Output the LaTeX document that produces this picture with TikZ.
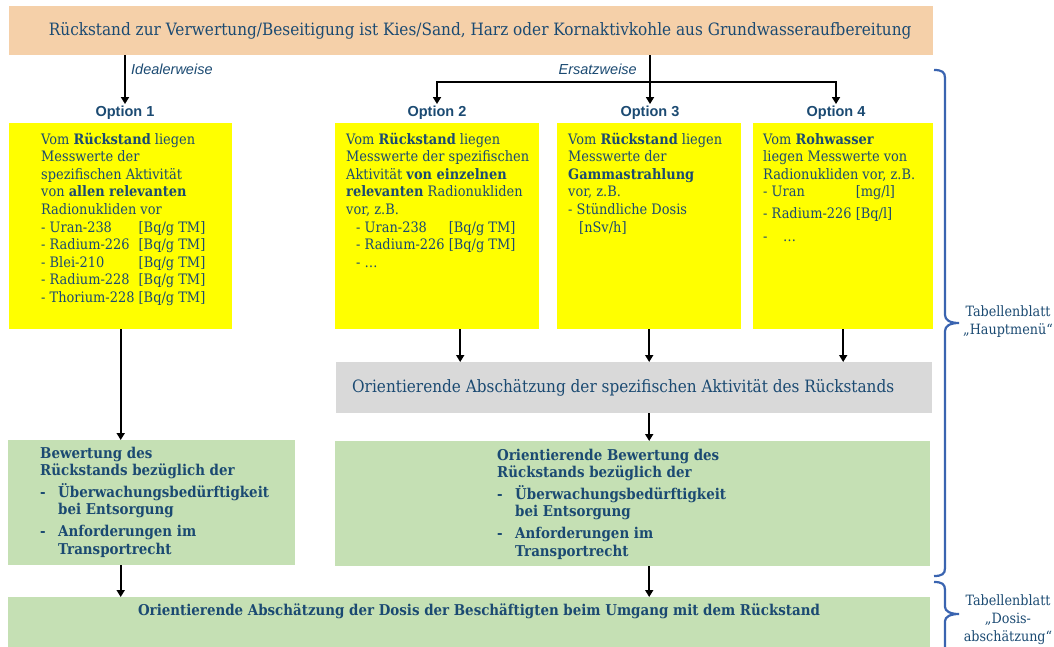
\documentclass[tikz,border=0pt]{standalone}
\usepackage{fontspec}
\setmainfont{DejaVu Serif}[FakeStretch=0.9]
\newfontfamily\optfont{Liberation Sans}
\usetikzlibrary{arrows.meta, positioning}

\definecolor{textblau}{HTML}{1B4A72}
\definecolor{kopforange}{HTML}{F5D0A9}
\definecolor{gelb}{HTML}{FFFF00}
\definecolor{grau}{HTML}{D9D9D9}
\definecolor{gruen}{HTML}{C5E0B4}
\definecolor{klammerblau}{HTML}{3A64B0}

\newlength\nukbreite
\newcommand{\nuk}[2]{\makebox[\nukbreite][l]{#1}#2}
\newcommand{\spalte}[2]{\parbox[t]{#1}{\raggedright #2}}

\begin{document}
\begin{tikzpicture}[
        x=1pt, y=-1pt,
        font=\fontsize{14.4}{17.6}\selectfont, text=textblau,
        kopf/.style={rectangle, fill=kopforange, minimum width=924pt, minimum height=49pt, anchor=north west, inner sep=0pt, font=\fontsize{17}{20}\selectfont},
        messbox/.style={rectangle, fill=gelb, minimum height=206pt, anchor=north west, inner sep=0pt},
        schaetzbox/.style={rectangle, fill=grau, minimum width=596pt, minimum height=51pt, anchor=north west, inner sep=0pt, font=\fontsize{17}{20}\selectfont},
        bewbox/.style={rectangle, fill=gruen, minimum height=125pt, anchor=north west, inner sep=0pt},
        boxtext/.style={anchor=base west, inner sep=0pt},
        fetttext/.style={boxtext, font=\fontsize{14.9}{17.6}\selectfont\bfseries},
        option/.style={inner sep=2pt, font=\optfont\bfseries\fontsize{14.5}{16}\selectfont},
        weg/.style={inner sep=0pt, font=\optfont\itshape\fontsize{14.5}{16}\selectfont},
        blatt/.style={align=center, inner sep=0pt, font=\fontsize{14.2}{18}\selectfont},
        pfeil/.style={-{Triangle[width=8pt,length=7pt]}, line width=1.7pt, black},
        klammer/.style={draw=klammerblau, line width=2.2pt}
    ]
    \useasboundingbox (0,0) rectangle (1054,646);
    \clip (0,0) rectangle (1054,646);

    % Kopf
    \node[kopf] (kopf) at (9,6) {\hspace*{18pt}Rückstand zur Verwertung/Beseitigung ist Kies/Sand, Harz oder Kornaktivkohle aus Grundwasseraufbereitung};

    % Optionen
    \node[option] (lab1) at (125,113) {Option 1};
    \node[option] (lab2) at (437,113) {Option 2};
    \node[option] (lab3) at (650,113) {Option 3};
    \node[option] (lab4) at (836,113) {Option 4};
    \node[weg, anchor=west] (ideal) at (131,69) {Idealerweise};
    \node[weg, anchor=east] (ersatz) at (637,69) {Ersatzweise};

    \node[messbox, minimum width=223pt] (opt1) at (9,123) {};
    \node[messbox, minimum width=204pt] (opt2) at (335,123) {};
    \node[messbox, minimum width=184pt] (opt3) at (557,123) {};
    \node[messbox, minimum width=180pt] (opt4) at (753,123) {};

    \node[boxtext] (opt1txt) at (41,144) {\spalte{188pt}{\settowidth{\nukbreite}{- Thorium-228\ }%
        Vom \textbf{Rückstand} liegen\\
        Messwerte der\\
        spezifischen Aktivität\\
        von \textbf{allen relevanten}\\
        Radionukliden vor\\
        \nuk{- Uran-238}{[Bq/g TM]}\\
        \nuk{- Radium-226}{[Bq/g TM]}\\
        \nuk{- Blei-210}{[Bq/g TM]}\\
        \nuk{- Radium-228}{[Bq/g TM]}\\
        - Thorium-228 [Bq/g TM]}};
    \node[boxtext] (opt2txt) at (346,144) {\spalte{195pt}{\settowidth{\nukbreite}{- Radium-226\ }%
        Vom \textbf{Rückstand} liegen\\
        Messwerte der spezifischen\\
        Aktivität \textbf{von einzelnen}\\
        \textbf{relevanten} Radionukliden\\
        vor, z.B.\\
        \hspace*{10pt}\nuk{- Uran-238}{[Bq/g TM]}\\
        \hspace*{10pt}- Radium-226 [Bq/g TM]\\
        \hspace*{10pt}- \dots}};
    \node[boxtext] (opt3txt) at (568,144) {\spalte{172pt}{%
        Vom \textbf{Rückstand} liegen\\
        Messwerte der\\
        \textbf{Gammastrahlung}\\
        vor, z.B.\\
        - Stündliche Dosis\\
        \hspace*{11pt}[nSv/h]}};
    \node[boxtext] (opt4txt) at (763,144) {\spalte{168pt}{\settowidth{\nukbreite}{- Radium-226\ }%
        Vom \textbf{Rohwasser}\\
        liegen Messwerte von\\
        Radionukliden vor, z.B.\\
        \nuk{- Uran}{[mg/l]}\\[4.5pt]
        - Radium-226 [Bq/l]\\[4.5pt]
        \makebox[20pt][l]{-}\dots}};

    % Abschaetzung und Bewertung
    \node[schaetzbox] (schaetz) at (336,362) {Orientierende Abschätzung der spezifischen Aktivität des Rückstands\hspace*{22pt}};
    \node[bewbox, minimum width=287pt] (bew1) at (8,440) {};
    \node[bewbox, minimum width=595pt] (bew2) at (335,441) {};
    \node[fetttext] (bew1txt) at (40,458) {\spalte{250pt}{%
        Bewertung des\\
        Rückstands bezüglich der\\[4pt]
        \makebox[18pt][l]{-}Überwachungsbedürftigkeit\\
        \hspace*{18pt}bei Entsorgung\\[4pt]
        \makebox[18pt][l]{-}Anforderungen im\\
        \hspace*{18pt}Transportrecht}};
    \node[fetttext] (bew2txt) at (497,460) {\spalte{300pt}{%
        Orientierende Bewertung des\\
        Rückstands bezüglich der\\[4pt]
        \makebox[18pt][l]{-}Überwachungsbedürftigkeit\\
        \hspace*{18pt}bei Entsorgung\\[4pt]
        \makebox[18pt][l]{-}Anforderungen im\\
        \hspace*{18pt}Transportrecht}};

    % Dosis
    \node[bewbox, minimum width=922pt, minimum height=60pt] (dosis) at (8,597) {};
    \node[fetttext, anchor=base] (dosistxt) at (479,615) {Orientierende Abschätzung der Dosis der Beschäftigten beim Umgang mit dem Rückstand};

    % Tabellenblaetter
    \node[blatt] (haupt) at (1008,322) {Tabellenblatt\\„Hauptmenü“};
    \node[blatt] (dosisblatt) at (1008,620) {Tabellenblatt\\„Dosis-\\abschätzung“};

    % Pfeile
    \coordinate (gabel) at (lab3 |- 0,82);
    \draw[pfeil] (kopf.south -| lab1) -- (lab1.north);
    \draw[pfeil] (kopf.south -| lab3) -- (lab3.north);
    \draw[pfeil] (gabel) -| (lab2.north);
    \draw[pfeil] (gabel) -| (lab4.north);
    \draw[pfeil] (opt1.south) -- (opt1.south |- bew1.north);
    \draw[pfeil] ([xshift=23pt]opt2.south) -- ([xshift=23pt]opt2.south |- schaetz.north);
    \draw[pfeil] (opt3.south) -- (opt3.south |- schaetz.north);
    \draw[pfeil] (opt4.south) -- (opt4.south |- schaetz.north);
    \draw[pfeil] (schaetz.south -| opt3.south) -- (bew2.north -| opt3.south);
    \draw[pfeil] (bew1.south -| opt1.south) -- (dosis.north -| opt1.south);
    \draw[pfeil] (bew2.south -| opt3.south) -- (dosis.north -| opt3.south);

    % Klammern
    \draw[klammer] (934,70) .. controls (942,70) and (945,72) .. (945,78) -- (945,315)
        .. controls (945,320) and (950,323) .. (959,323) .. controls (950,323) and (945,326) .. (945,331)
        -- (945,568) .. controls (945,574) and (942,576) .. (934,576);
    \draw[klammer] (934,582) .. controls (942,582) and (945,584) .. (945,590) -- (945,607)
        .. controls (945,611) and (950,614) .. (959,614) .. controls (950,614) and (945,617) .. (945,621)
        -- (945,650);
\end{tikzpicture}
\end{document}
